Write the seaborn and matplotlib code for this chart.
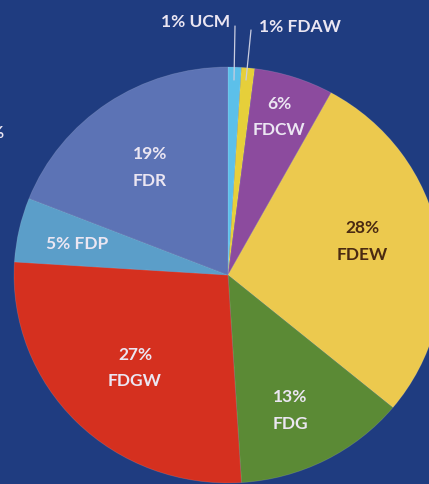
import numpy as np
import matplotlib
matplotlib.use("Agg")
import matplotlib.pyplot as plt
import seaborn as sns

# data
labels = ['UCM', 'FDAW', 'FDCW', 'FDEW', 'FDG', 'FDGW', 'FDP', 'FDR']
shares = [1, 1, 6, 28, 13, 27, 5, 19]
colors = ['#5cc0ea', '#e6cf3a', '#8c4b9e', '#ecc94e', '#5b8a35', '#d5301f', '#5b9ec9', '#5c73b5']

sns.set_style('white')
plt.rcParams['font.family'] = ['Lato', 'DejaVu Sans']

bg = '#1f3c80'
txt = '#ebe6f2'

W, H = 429, 484
k = 208 / 214  # the photographed pie is slightly squashed vertically


def py(y):
    # pixel row (from top) -> data y
    return (H - y) / k


fig = plt.figure(figsize=(W / 100, H / 100), dpi=100, facecolor=bg)
ax = fig.add_axes([0, 0, 1, 1])
ax.set_facecolor(bg)

# pie, clockwise from 12 o'clock, partly off the frame
ax.pie(shares, colors=colors, startangle=90, counterclock=False,
       center=(228, py(275)), radius=214, frame=True,
       wedgeprops=dict(linewidth=0.6, edgecolor='#ffffff22'))
ax.set_aspect('auto')
ax.set_xlim(0, W)
ax.set_ylim(0, H / k)
ax.axis('off')

fs = 12.5

# label layout (pixel positions, y from top)
inside = {
    'FDCW': (279, 104, 130, txt),
    'FDR': (150, 154, 181, txt),
    'FDEW': (362, 228, 255, '#4a2a12'),
    'FDGW': (135, 355, 381, txt),
    'FDG': (290, 397, 424, txt),
}
for name, val in zip(labels, shares):
    if name in inside:
        x, y1, y2, c = inside[name]
        ax.text(x, py(y1), f'{val}%', ha='center', va='center',
                fontsize=fs, fontweight='bold', color=c)
        ax.text(x, py(y2), name, ha='center', va='center',
                fontsize=fs, fontweight='bold', color=c)

ax.text(77, py(244), f'{shares[6]}% {labels[6]}', ha='center', va='center',
        fontsize=fs, fontweight='bold', color=txt)

# small slices with leader lines
ax.text(196, py(22), f'{shares[0]}% {labels[0]}', ha='center', va='center',
        fontsize=fs, fontweight='bold', color=txt)
ax.text(300, py(27), f'{shares[1]}% {labels[1]}', ha='center', va='center',
        fontsize=fs, fontweight='bold', color=txt)
ax.plot([235, 234], [py(26), py(80)], color='#c9cde0', lw=0.9)
ax.plot([251, 246], [py(30), py(80)], color='#c9cde0', lw=0.9)

# cut-off glyph at the left edge
ax.text(-4, py(133), '%', ha='center', va='center',
        fontsize=fs, fontweight='bold', color=txt)

fig.savefig('out.png', dpi=100, facecolor=bg)
